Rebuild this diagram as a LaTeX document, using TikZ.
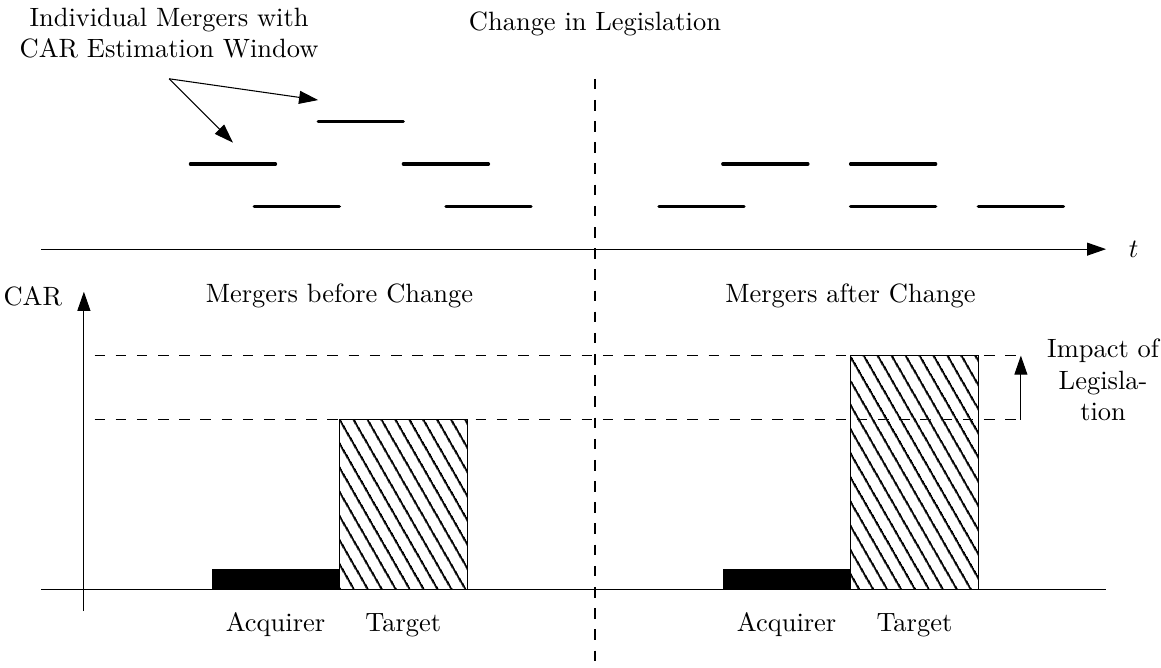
\documentclass[tikz,border=0pt]{standalone}
\usepackage{tikz}
\usetikzlibrary{arrows.meta,patterns.meta}

\tikzset{
  window/.style={line width=1.2pt, line cap=round},
  guide/.style={dash pattern=on 4pt off 4pt},
  bigtip/.style={-{Triangle[length=7.2pt,width=4.9pt]}},
  hatch/.style={draw, pattern={Lines[angle=-60,distance=4.35pt,line width=0.85pt]}}
}

\begin{document}
\begin{tikzpicture}[x=0.5655cm, y=0.5655cm]
\useasboundingbox (-13.97,-1.83) rectangle (13.29,13.85);

\node (title) at (0, 13.3) {Change in Legislation};
\node (indiv) [align=center] at (-10, 13.07) {Individual Mergers with\\CAR Estimation Window};

\draw[guide] (0, 12) -- (0, -1.75);

% time axis
\draw[bigtip] (-13, 8) -- (12, 8);
\node (t) at (12.65, 8) {$t$};

% merger windows before
\draw[window] (-9.5, 10) -- (-7.5, 10);
\draw[window] (-8, 9) -- (-6, 9);
\draw[window] (-6.5, 11) -- (-4.5, 11);
\draw[window] (-4.5, 10) -- (-2.5, 10);
\draw[window] (-3.5, 9) -- (-1.5, 9);

% merger windows after
\draw[window] (1.5, 9) -- (3.5, 9);
\draw[window] (3, 10) -- (5, 10);
\draw[window] (6, 10) -- (8, 10);
\draw[window] (6, 9) -- (8, 9);
\draw[window] (9, 9) -- (11, 9);

\coordinate (src) at (-10, 12);
\coordinate (w1) at (-8.5, 10.5);
\coordinate (w2) at (-6.5, 11.5);
\draw[bigtip] (src) -- (w1);
\draw[bigtip] (src) -- (w2);

% CAR axes
\draw (-13, 0) -- (12, 0);
\draw[bigtip] (-12, -0.5) -- (-12, 7);
\node (car) at (-13.2, 6.9) {CAR};

\node (before) at (-6, 6.9) {Mergers before Change};
\node (after) at (6, 6.9) {Mergers after Change};

\draw[guide] (-11.75, 5.5) -- (10, 5.5);
\draw[guide] (-11.75, 4) -- (10, 4);

\fill (-9, 0) rectangle (-6, 0.5);
\draw[hatch] (-6, 0) rectangle (-3, 4);
\fill (3, 0) rectangle (6, 0.5);
\draw[hatch] (6, 0) rectangle (9, 5.5);

\node (acq1) at (-7.5, -0.82) {Acquirer};
\node (tgt1) at (-4.5, -0.82) {Target};
\node (acq2) at (4.5, -0.82) {Acquirer};
\node (tgt2) at (7.5, -0.82) {Target};

\coordinate (low) at (10, 4);
\coordinate (high) at (10, 5.5);
\draw[bigtip] (low) -- (high);
\node (impact) [align=center] at (11.93, 4.93) {Impact of\\Legisla-\\tion};
\end{tikzpicture}
\end{document}
